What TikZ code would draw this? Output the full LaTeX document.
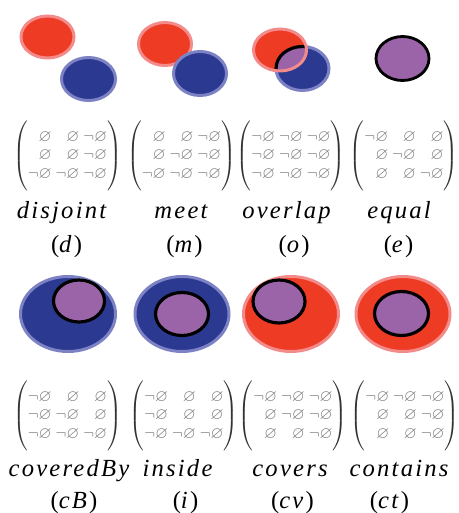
\documentclass[tikz,border=0pt]{standalone}
\usepackage{amsmath,amssymb}
\usepackage{fontspec}
\newfontfamily\lblfont[LetterSpace=9]{Liberation Serif}
\usetikzlibrary{positioning}
\definecolor{rfill}{HTML}{EE3B24}
\definecolor{rhalo}{HTML}{F38B8B}
\definecolor{bfill}{HTML}{2B3990}
\definecolor{bhalo}{HTML}{7C82C3}
\definecolor{pfill}{HTML}{9B64A8}
\definecolor{matgray}{HTML}{7A7A7A}
% matrix entries
\newcommand{\emp}{{\color{matgray}\varnothing}}
\newcommand{\nemp}{{\color{matgray}\neg\varnothing}}
\newcommand{\rccmat}[1]{$\arraycolsep=1.1pt\left(\rule[-17pt]{0pt}{36pt}\begin{array}{@{}rrr@{}}#1\end{array}\right)$}
% regions
\newcommand{\dRed}{(47.5,37) ellipse (26.5 and 21)}
\newcommand{\dBlue}{(88.5,79) ellipse (27 and 21.5)}
\newcommand{\mRed}{(165,44) ellipse (26.5 and 21.5)}
\newcommand{\mBlue}{(200,73.5) ellipse (26.5 and 22)}
\newcommand{\oRed}{(280,50) ellipse (26.5 and 21)}
\newcommand{\oBlue}{(302.5,68.5) ellipse (26.5 and 22)}

\begin{document}
\begin{tikzpicture}[x=0.02cm,y=-0.02cm,
  lbl/.style={anchor=base,font=\fontsize{14}{16}\lblfont\itshape},
  tag/.style={anchor=base,font=\fontsize{14}{16}\lblfont},
  mat/.style={inner sep=0pt,text=black!80,font=\fontsize{9.5}{10.6}\selectfont},
  redset/.style={fill=rfill,draw=rhalo,line width=1.7pt},
  blueset/.style={fill=bfill,draw=bhalo,line width=1.7pt},
  inreg/.style={fill=pfill,draw=black,line width=1.8pt}]
\useasboundingbox (0,0) rectangle (458,513);

% disjoint, meet
\draw[redset] \dRed;
\draw[blueset] \dBlue;
\draw[redset] \mRed;
\draw[blueset] \mBlue;
% overlap
\draw[blueset] \oBlue;
\fill[rfill] \oRed;
\begin{scope}
\clip \oRed;
\fill[pfill] \oBlue;
\draw[black,line width=1.8pt] \oBlue;
\end{scope}
\draw[rhalo,line width=1.7pt] \oRed;
% equal
\draw[inreg,line width=1.6pt] (402.5,58.5) ellipse (26.5 and 22);

% coveredBy, inside, covers, contains
\draw[blueset] (68,314) ellipse (47.5 and 37.5);
\draw[inreg] (79,301) ellipse (25.5 and 21);
\draw[blueset] (182,314) ellipse (47 and 37.5);
\draw[inreg] (182,314) ellipse (26.5 and 21.5);
\draw[redset] (291,314) ellipse (47.5 and 37.5);
\draw[inreg] (279,301.5) ellipse (26 and 21.5);
\draw[redset] (403,314) ellipse (47 and 37.5);
\draw[inreg] (401.5,313.5) ellipse (27 and 22);

% matrices
\node[mat] (matD) at (67.5,156) {\rccmat{\emp & \emp & \nemp\\ \emp & \emp & \nemp\\ \nemp & \nemp & \nemp}};
\node[mat] (matM) at (181.5,156) {\rccmat{\emp & \emp & \nemp\\ \emp & \nemp & \nemp\\ \nemp & \nemp & \nemp}};
\node[mat] (matO) at (291,156) {\rccmat{\nemp & \nemp & \nemp\\ \nemp & \nemp & \nemp\\ \nemp & \nemp & \nemp}};
\node[mat] (matE) at (404,156) {\rccmat{\nemp & \emp & \emp\\ \emp & \nemp & \emp\\ \emp & \emp & \nemp}};
\node[mat] (matCB) at (67.5,416) {\rccmat{\nemp & \emp & \emp\\ \nemp & \nemp & \emp\\ \nemp & \nemp & \nemp}};
\node[mat] (matI) at (184,416) {\rccmat{\nemp & \emp & \emp\\ \nemp & \emp & \emp\\ \nemp & \nemp & \nemp}};
\node[mat] (matCV) at (293,416) {\rccmat{\nemp & \nemp & \nemp\\ \emp & \nemp & \nemp\\ \emp & \emp & \nemp}};
\node[mat] (matCT) at (405,416) {\rccmat{\nemp & \nemp & \nemp\\ \emp & \emp & \nemp\\ \emp & \emp & \nemp}};

% names
\node[lbl] (lblD) at (61.5,218) {disjoint};
\node[lbl] (lblM) at (181,218) {meet};
\node[lbl] (lblO) at (286.5,218) {overlap};
\node[lbl] (lblE) at (399,218) {equal};
\node[tag] (tagD) at (66.5,252) {(\textit{d})};
\node[tag] (tagM) at (184.5,252) {(\textit{m})};
\node[tag] (tagO) at (294,252) {(\textit{o})};
\node[tag] (tagE) at (398.5,252) {(\textit{e})};
\node[lbl] (lblCB) at (69,476) {coveredBy};
\node[lbl] (lblI) at (177.5,476) {inside};
\node[lbl] (lblCV) at (290,476) {covers};
\node[lbl] (lblCT) at (399,476) {contains};
\node[tag] (tagCB) at (74,508) {(\textit{cB})};
\node[tag] (tagI) at (185.5,508) {(\textit{i})};
\node[tag] (tagCV) at (292.5,508) {(\textit{cv})};
\node[tag] (tagCT) at (389.5,508) {(\textit{ct})};
\end{tikzpicture}
\end{document}
